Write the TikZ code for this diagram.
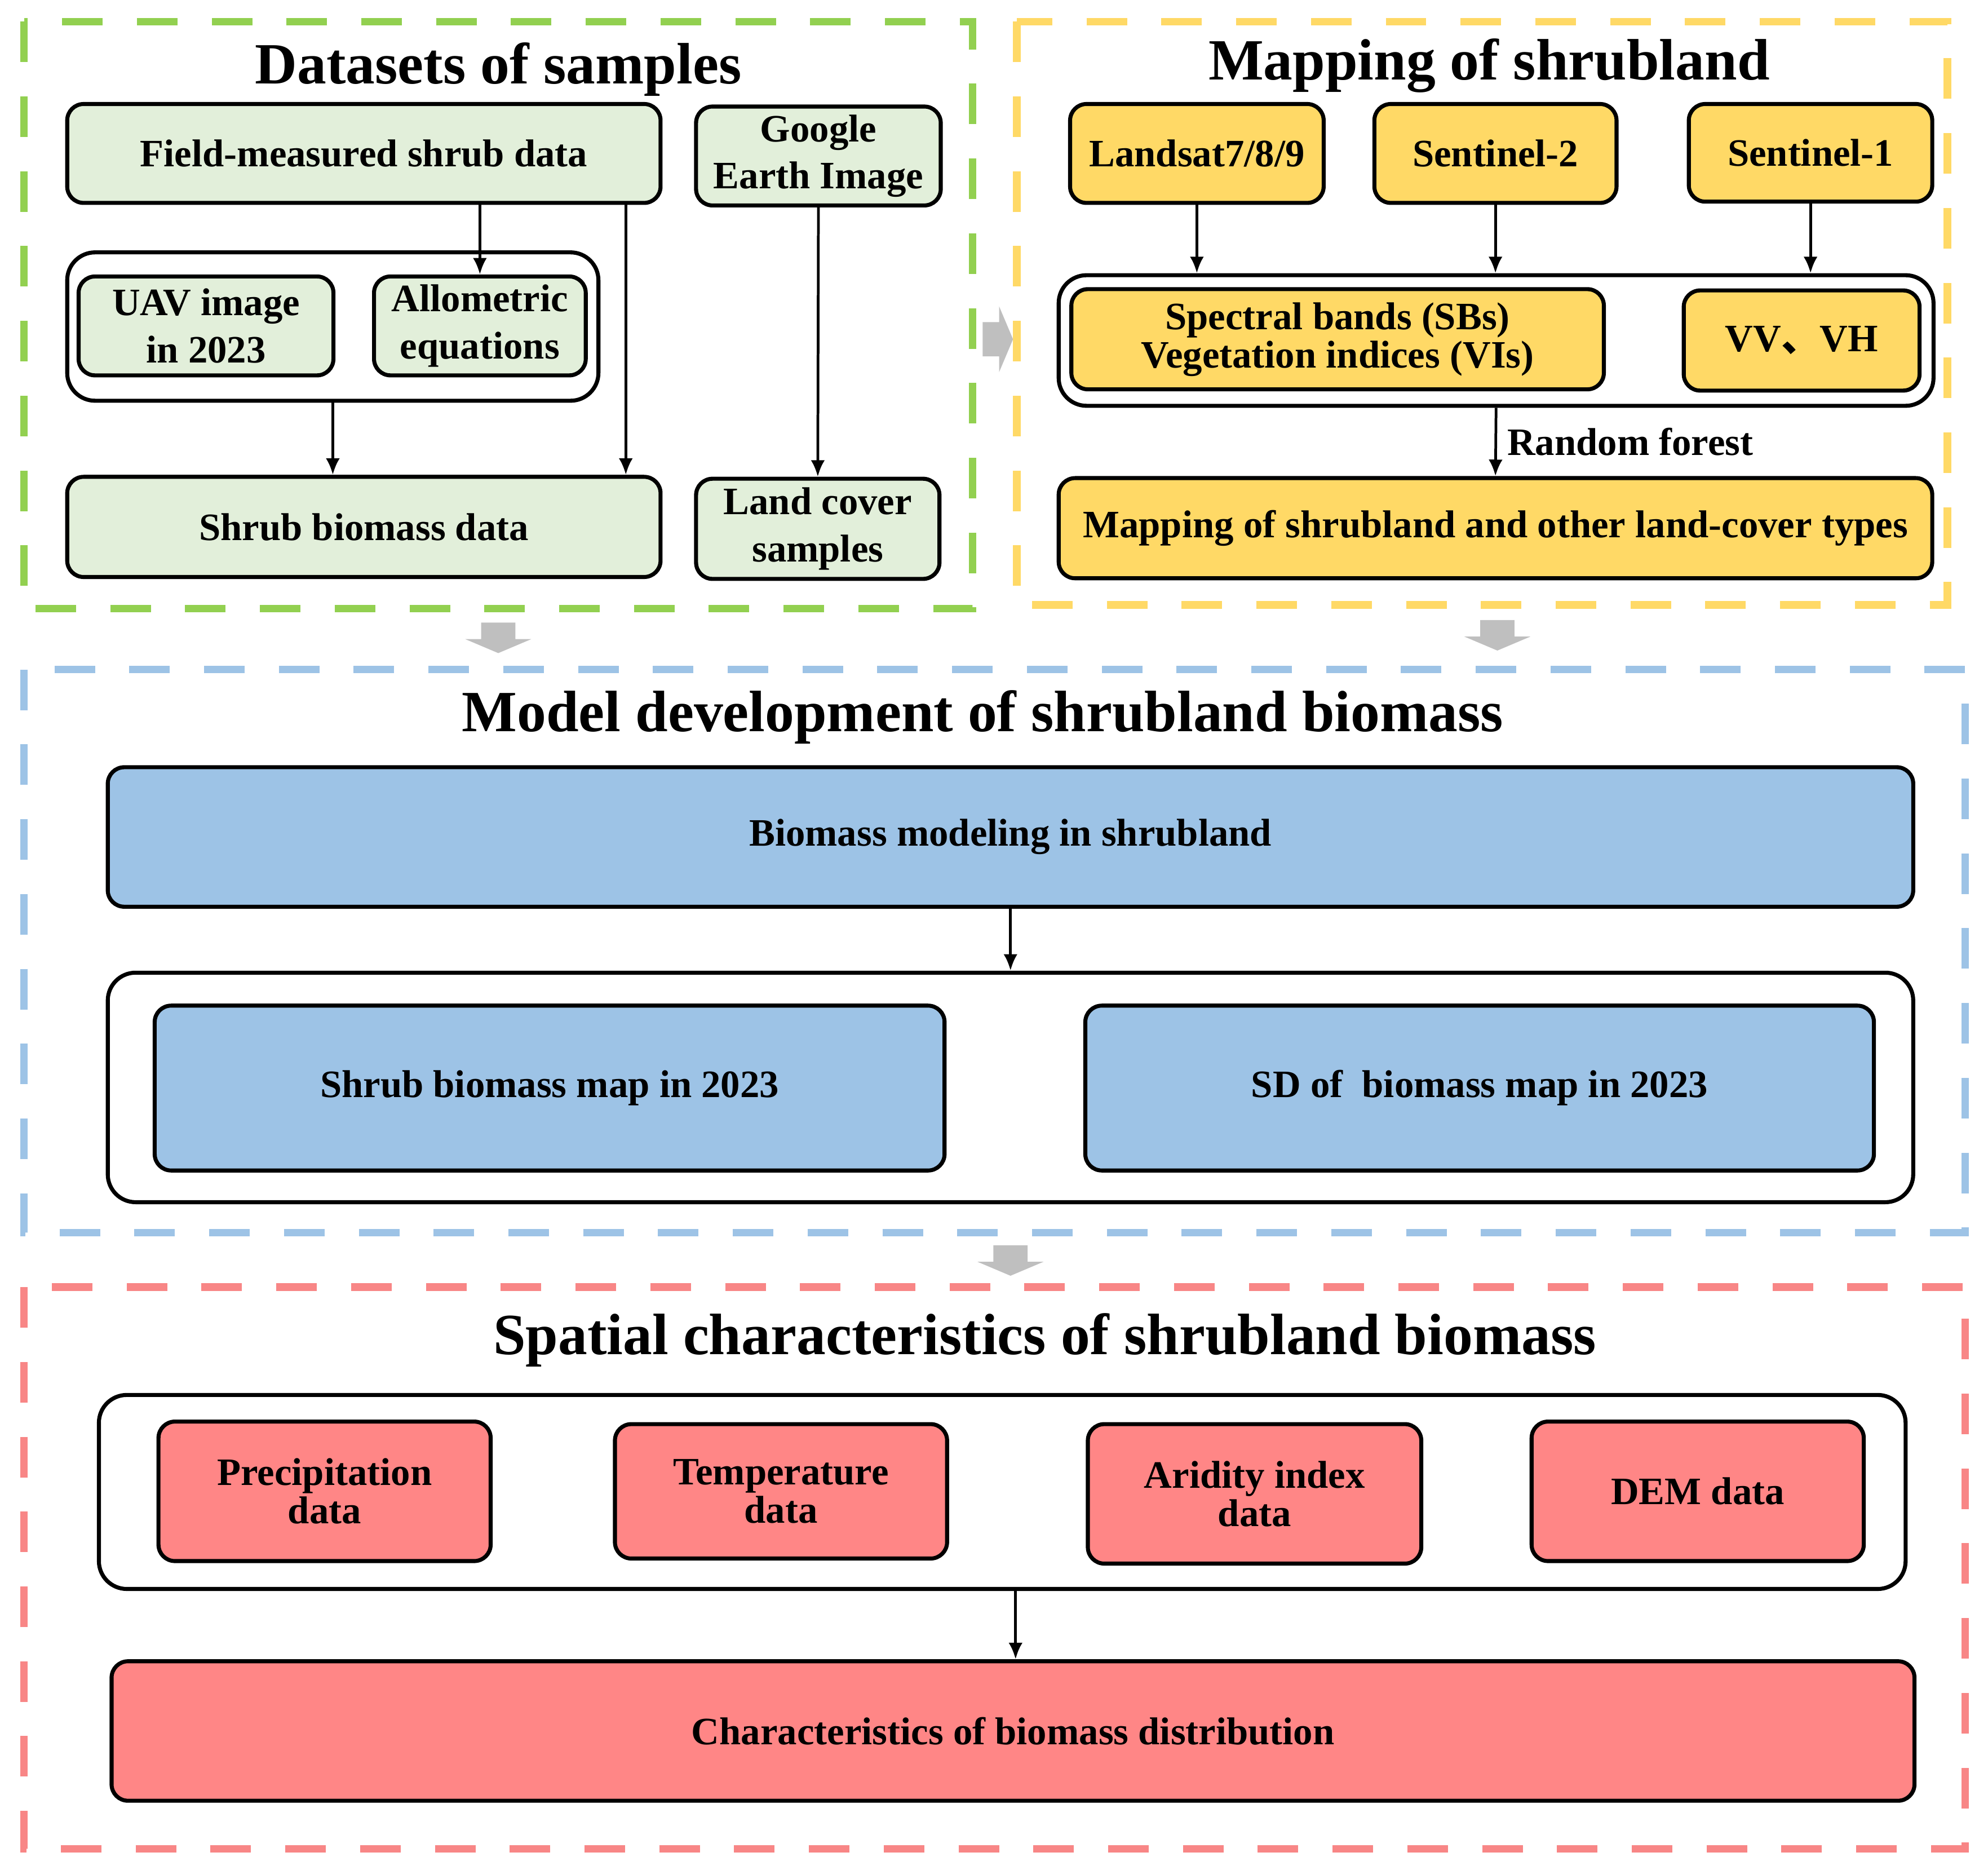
\documentclass[tikz,border=0pt]{standalone}
\usepackage{fontspec}
\setmainfont{Liberation Serif}
\newfontfamily\cjkfont{Noto Sans CJK SC}
\usetikzlibrary{arrows.meta}

\definecolor{fillgreen}{RGB}{226,239,218}
\definecolor{fillyellow}{RGB}{255,217,102}
\definecolor{fillblue}{RGB}{157,195,230}
\definecolor{fillred}{RGB}{255,134,134}
\definecolor{dashgreen}{RGB}{146,208,80}
\definecolor{dashyellow}{RGB}{255,217,102}
\definecolor{dashblue}{RGB}{157,195,230}
\definecolor{dashred}{RGB}{248,134,134}
\definecolor{arrowgray}{RGB}{191,191,191}

\tikzset{
  box/.style={draw, line width=0.9pt, rounded corners=0.13cm, inner sep=0pt, align=center,
    font=\bfseries\fontsize{8.7}{10.6}\selectfont},
  tight/.style={font=\bfseries\fontsize{8.7}{8.6}\selectfont},
  holder/.style={draw, line width=0.9pt, rounded corners=0.22cm, fill=white, inner sep=0pt},
  frame/.style={line width=1.7pt, dash pattern=on 0.32cm off 0.27cm},
  flow/.style={-{Latex[length=0.13cm,width=0.11cm]}, line width=0.6pt},
  heading/.style={font=\bfseries\fontsize{13.1}{15}\selectfont, anchor=base},
  bigarrow/.style={fill=arrowgray}
}

\begin{document}
\begin{tikzpicture}
    \useasboundingbox (0,0) rectangle (15.68,-14.746);

    % Szare strzalki miedzy blokami
    \fill[bigarrow, shift={(7.75,-2.675)}, rotate=90] (-0.135,0) -- (0.135,0) -- (0.135,-0.13) -- (0.26,-0.13) -- (0,-0.24) -- (-0.26,-0.13) -- (-0.135,-0.13) -- cycle;
    \fill[bigarrow, shift={(3.93,-4.91)}] (-0.135,0) -- (0.135,0) -- (0.135,-0.13) -- (0.26,-0.13) -- (0,-0.24) -- (-0.26,-0.13) -- (-0.135,-0.13) -- cycle;
    \fill[bigarrow, shift={(11.81,-4.89)}] (-0.135,0) -- (0.135,0) -- (0.135,-0.13) -- (0.26,-0.13) -- (0,-0.24) -- (-0.26,-0.13) -- (-0.135,-0.13) -- cycle;
    \fill[bigarrow, shift={(7.97,-9.82)}] (-0.135,0) -- (0.135,0) -- (0.135,-0.13) -- (0.26,-0.13) -- (0,-0.24) -- (-0.26,-0.13) -- (-0.135,-0.13) -- cycle;

    % Ramki przerywane
    \draw[frame, dashgreen] (0.19,-0.17) rectangle (7.67,-4.80);
    \draw[frame, dashyellow] (8.02,-0.17) rectangle (15.36,-4.77);
    \draw[frame, dashblue] (0.19,-5.28) rectangle (15.50,-9.72);
    \draw[frame, dashred] (0.19,-10.15) rectangle (15.50,-14.58);

    % Datasets of samples
    \node[heading] (titleA) at (3.93,-0.66) {Datasets of samples};
    \node[box, fill=fillgreen, minimum width=4.68cm, minimum height=0.78cm] (field) at (2.87,-1.21) {Field-measured shrub data};
    \node[box, fill=fillgreen, minimum width=1.93cm, minimum height=0.78cm] (google) at (6.455,-1.23) {Google\\Earth Image};
    \node[holder, minimum width=4.19cm, minimum height=1.17cm] (uavbox) at (2.625,-2.575) {};
    \node[box, fill=fillgreen, minimum width=2.01cm, minimum height=0.78cm] (uav) at (1.625,-2.57) {UAV image\\in 2023};
    \node[box, fill=fillgreen, minimum width=1.67cm, minimum height=0.78cm] (allo) at (3.785,-2.57) {Allometric\\equations};
    \node[box, fill=fillgreen, minimum width=4.68cm, minimum height=0.79cm] (biomassdata) at (2.87,-4.155) {Shrub biomass data};
    \node[box, fill=fillgreen, minimum width=1.92cm, minimum height=0.79cm] (landcover) at (6.45,-4.17) {Land cover\\samples};

    \draw[flow] (field.south -| allo.north) -- (allo.north);
    \draw[flow] ([xshift=-0.29cm]field.south east) -- ([xshift=-0.29cm]biomassdata.north east);
    \draw[flow] (uavbox.south) -- (uavbox.south |- biomassdata.north);
    \draw[flow] (google.south) -- (landcover.north);

    % Mapping of shrubland
    \node[heading] (titleB) at (11.745,-0.63) {Mapping of shrubland};
    \node[box, fill=fillyellow, minimum width=2.00cm, minimum height=0.78cm] (landsat) at (9.44,-1.21) {Landsat7/8/9};
    \node[box, fill=fillyellow, minimum width=1.91cm, minimum height=0.78cm] (sentA) at (11.795,-1.21) {Sentinel-2};
    \node[box, fill=fillyellow, minimum width=1.92cm, minimum height=0.77cm] (sentB) at (14.28,-1.205) {Sentinel-1};
    \node[holder, minimum width=6.90cm, minimum height=1.03cm] (srcbox) at (11.80,-2.685) {};
    \node[box, tight, fill=fillyellow, minimum width=4.20cm, minimum height=0.79cm] (bands) at (10.55,-2.675) {Spectral bands (SBs)\\Vegetation indices (VIs)};
    \node[box, fill=fillyellow, minimum width=1.86cm, minimum height=0.79cm] (vvvh) at (14.21,-2.685) {VV{\cjkfont 、}VH};
    \node[box, fill=fillyellow, minimum width=6.89cm, minimum height=0.79cm] (landmap) at (11.795,-4.165) {Mapping of shrubland and other land-cover types};

    \draw[flow] (landsat.south) -- (landsat.south |- srcbox.north);
    \draw[flow] (sentA.south) -- (sentA.south |- srcbox.north);
    \draw[flow] (sentB.south) -- (sentB.south |- srcbox.north);
    \draw[flow] (srcbox.south) -- (landmap.north) node[midway, right, inner sep=0.08cm, font=\bfseries\fontsize{8.7}{10.4}\selectfont] (rf) {Random forest};

    % Model development of shrubland biomass
    \node[heading] (titleC) at (7.75,-5.77) {Model development of shrubland biomass};
    \node[box, fill=fillblue, minimum width=14.24cm, minimum height=1.10cm] (modeling) at (7.97,-6.60) {Biomass modeling in shrubland};
    \node[holder, minimum width=14.24cm, minimum height=1.81cm] (mapbox) at (7.97,-8.575) {};
    \node[box, fill=fillblue, minimum width=6.23cm, minimum height=1.30cm] (biomassmap) at (4.335,-8.58) {Shrub biomass map in 2023};
    \node[box, fill=fillblue, minimum width=6.22cm, minimum height=1.30cm] (sdmap) at (11.67,-8.58) {SD of~ biomass map in 2023};

    \draw[flow] (modeling.south) -- (mapbox.north);

    % Spatial characteristics of shrubland biomass
    \node[heading] (titleD) at (8.24,-10.68) {Spatial characteristics of shrubland biomass};
    \node[holder, minimum width=14.25cm, minimum height=1.53cm] (factbox) at (7.905,-11.765) {};
    \node[box, tight, fill=fillred, minimum width=2.62cm, minimum height=1.10cm] (precip) at (2.56,-11.76) {Precipitation\\data};
    \node[box, tight, fill=fillred, minimum width=2.62cm, minimum height=1.06cm] (temp) at (6.16,-11.76) {Temperature\\data};
    \node[box, tight, fill=fillred, minimum width=2.63cm, minimum height=1.10cm] (aridity) at (9.895,-11.78) {Aridity index\\data};
    \node[box, fill=fillred, minimum width=2.62cm, minimum height=1.10cm] (dem) at (13.39,-11.76) {DEM data};
    \node[box, fill=fillred, minimum width=14.22cm, minimum height=1.10cm] (distribution) at (7.99,-13.65) {Characteristics of biomass distribution};

    \draw[flow] ([xshift=0.02cm]distribution.north |- factbox.south) -- ([xshift=0.02cm]distribution.north);
\end{tikzpicture}
\end{document}
